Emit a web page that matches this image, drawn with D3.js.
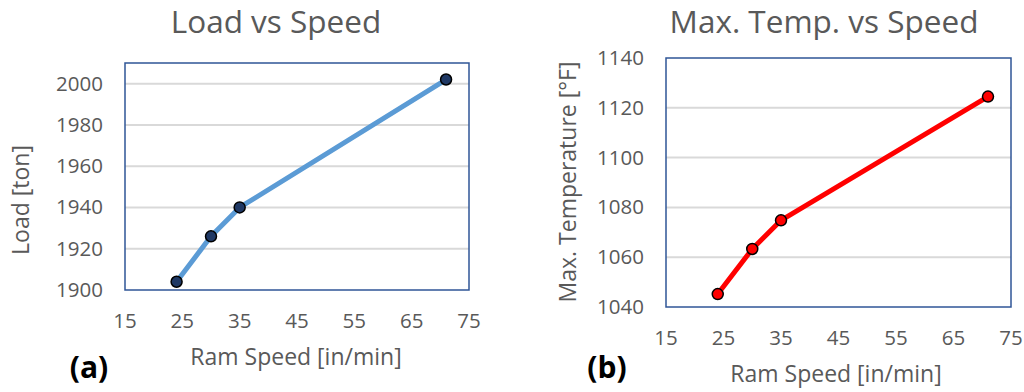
<!DOCTYPE html>
<html>
<head>
<meta charset="utf-8">
<script src="https://cdn.jsdelivr.net/npm/d3@7"></script>
<style>
  body { margin: 0; background: #fff; }
  text { font-family: "Open Sans", sans-serif; fill: #595959; }
</style>
</head>
<body>
<svg id="chart" width="1024" height="392"></svg>
<script>
const speed = [24, 30, 35, 71];
const load = [1904, 1926, 1940, 2002];
const maxTemp = [1045.2, 1063.3, 1074.8, 1124.5];
const xTicks = [15, 25, 35, 45, 55, 65, 75];
const loadTicks = [1900, 1920, 1940, 1960, 1980, 2000];
const tempTicks = [1040, 1060, 1080, 1100, 1120, 1140];

const svg = d3.select("#chart");

const panels = [
  {
    box: { left: 125, right: 469, top: 63, bottom: 290 },
    yDomain: [1900, 2010], yTicks: loadTicks, values: load,
    title: "Load vs Speed", titleX: 276,
    yLabel: "Load [ton]", yLabelX: 29, yLabelY: 200,
    xLabelX: 296, xLabelY: 365,
    tag: "(a)", tagX: 89, tagY: 378,
    tickY: 328,
    line: "#5b9bd5", dot: "#1f3864"
  },
  {
    box: { left: 666, right: 1011, top: 58, bottom: 307 },
    yDomain: [1040, 1140], yTicks: tempTicks, values: maxTemp,
    title: "Max. Temp. vs Speed", titleX: 824,
    yLabel: "Max. Temperature [°F]", yLabelX: 576, yLabelY: 182,
    xLabelX: 836, xLabelY: 382,
    tag: "(b)", tagX: 607, tagY: 378,
    tickY: 345,
    line: "#ff0000", dot: "#ff0000"
  }
];

panels.forEach((p) => {
  let x = d3.scaleLinear().domain([15, 75]).range([p.box.left, p.box.right]);
  let y = d3.scaleLinear().domain(p.yDomain).range([p.box.bottom, p.box.top]);
  let g = svg.append("g");

  // gridlines
  g.selectAll(".grid")
    .data(p.yTicks.filter(t => t > p.yDomain[0] && t < p.yDomain[1]))
    .enter()
    .append("line")
    .attr("x1", p.box.left).attr("x2", p.box.right)
    .attr("y1", d => y(d)).attr("y2", d => y(d))
    .style("stroke", "#d9d9d9")
    .style("stroke-width", 2);

  // plot border
  g.append("rect")
    .attr("x", p.box.left).attr("y", p.box.top)
    .attr("width", p.box.right - p.box.left)
    .attr("height", p.box.bottom - p.box.top)
    .style("fill", "none")
    .style("stroke", "#2f5597")
    .style("stroke-width", 1.5);

  // y tick labels
  g.selectAll(".ylab")
    .data(p.yTicks)
    .enter()
    .append("text")
    .attr("x", p.box.left - 22)
    .attr("y", d => y(d) + 7)
    .attr("text-anchor", "end")
    .style("font-size", "20.5px")
    .text(d => d);

  // x tick labels
  g.selectAll(".xlab")
    .data(xTicks)
    .enter()
    .append("text")
    .attr("x", d => x(d))
    .attr("y", p.tickY)
    .attr("text-anchor", "middle")
    .style("font-size", "20.5px")
    .text(d => d);

  // series
  let pts = speed.map((s, i) => [s, p.values[i]]);
  g.append("path")
    .datum(pts)
    .attr("d", d3.line().x(d => x(d[0])).y(d => y(d[1])))
    .style("fill", "none")
    .style("stroke", p.line)
    .style("stroke-width", 5)
    .style("stroke-linejoin", "round");

  g.selectAll(".dot")
    .data(pts)
    .enter()
    .append("circle")
    .attr("cx", d => x(d[0]))
    .attr("cy", d => y(d[1]))
    .attr("r", 5.5)
    .style("fill", p.dot)
    .style("stroke", "#000")
    .style("stroke-width", 1.5);

  // titles
  g.append("text")
    .attr("x", p.titleX).attr("y", 33)
    .attr("text-anchor", "middle")
    .style("font-size", "31.5px")
    .text(p.title);

  g.append("text")
    .attr("transform", "translate(" + p.yLabelX + "," + p.yLabelY + ") rotate(-90)")
    .attr("text-anchor", "middle")
    .style("font-size", "23px")
    .text(p.yLabel);

  g.append("text")
    .attr("x", p.xLabelX).attr("y", p.xLabelY)
    .attr("text-anchor", "middle")
    .style("font-size", "23px")
    .text("Ram Speed [in/min]");

  g.append("text")
    .attr("x", p.tagX).attr("y", p.tagY)
    .attr("text-anchor", "middle")
    .style("font-size", "30px")
    .style("font-weight", "bold")
    .style("fill", "#000")
    .text(p.tag);
});
</script>
</body>
</html>
